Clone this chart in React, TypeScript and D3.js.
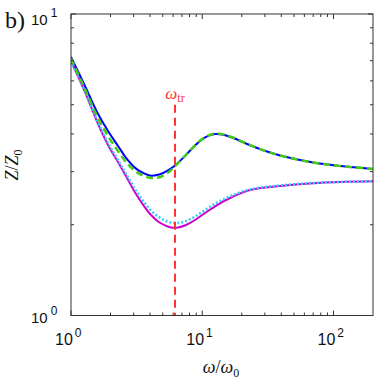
import React from "react";
import * as d3 from "d3";

// ---- data ----
const omegaBlue = [1, 1.278, 1.578, 1.914, 2.282, 2.672, 3.13, 3.6, 4.072, 4.768, 5.487, 6.205, 7.141, 8.363, 9.621, 11.07, 12.52, 14.16, 16.87, 21.96, 29.58, 39.17, 69.91, 112.3, 200];
const zBlue = [7.2, 5.77, 4.73, 4.09, 3.65, 3.3, 3.07, 2.96, 2.91, 2.94, 3.03, 3.145, 3.33, 3.58, 3.79, 3.94, 4.0, 3.985, 3.894, 3.706, 3.526, 3.394, 3.217, 3.133, 3.062];
const zGreen = [7.12, 5.64, 4.59, 3.94, 3.51, 3.2, 3.0, 2.9, 2.858, 2.88, 2.98, 3.13, 3.33, 3.58, 3.8, 3.95, 4.015, 3.995, 3.9, 3.71, 3.526, 3.394, 3.217, 3.133, 3.062];

const omegaMag = [1, 1.278, 1.578, 1.914, 2.282, 2.672, 3.13, 3.6, 4.072, 4.604, 5.207, 5.783, 6.54, 7.522, 8.813, 10.5, 12.97, 16.87, 23.14, 39.17, 69.91, 112.3, 200];
const zMagenta = [6.98, 5.51, 4.4, 3.678, 3.229, 2.858, 2.529, 2.307, 2.154, 2.05, 1.989, 1.958, 1.958, 1.996, 2.074, 2.188, 2.325, 2.472, 2.608, 2.689, 2.747, 2.772, 2.787];
const zCyan = [6.98, 5.55, 4.45, 3.734, 3.279, 2.912, 2.597, 2.379, 2.23, 2.13, 2.066, 2.035, 2.027, 2.058, 2.13, 2.239, 2.37, 2.5, 2.618, 2.7, 2.751, 2.772, 2.787];

const omegaTr = 6.2;
const trLineTopZ = 5.0;

const xDomain = [1, 200];
const yDomain = [1, 10];
const xMajor = [1, 10, 100];
const xMinor = [2, 3, 4, 5, 6, 7, 8, 9, 20, 30, 40, 50, 60, 70, 80, 90];
const yMajor = [1, 10];
const yMinor = [2, 3, 4, 5, 6, 7, 8, 9];
const xTickLabels = [
  { v: 1, base: "10", exp: "0" },
  { v: 10, base: "10", exp: "1" },
  { v: 100, base: "10", exp: "2" },
];
const yTickLabels = [
  { v: 1, base: "10", exp: "0" },
  { v: 10, base: "10", exp: "1" },
];

const W = 374;
const H = 379;
const M = { left: 71, right: 373, top: 14, bottom: 315.5 };

export default function App() {
  const x = d3.scaleLog().domain(xDomain).range([M.left, M.right]);
  const y = d3.scaleLog().domain(yDomain).range([M.bottom, M.top]);

  const mk = (om: number[], zs: number[]) =>
    d3
      .line<number>()
      .x((_, i) => x(om[i]))
      .y((d) => y(d))
      .curve(d3.curveCatmullRom.alpha(0.5))(zs) || "";

  const axisColor = "#333";
  const tickFont = "'Liberation Sans', Arial, sans-serif";
  const serif = "'Liberation Serif', 'DejaVu Serif', serif";
  const majLen = 5;
  const minLen = 3;

  return (
    <div style={{ position: "absolute", left: 0, top: 0 }}>
      <svg width={W} height={H} style={{ display: "block", background: "#fff" }}>
        <defs>
          <clipPath id="plotclip">
            <rect x={M.left} y={M.top} width={M.right - M.left} height={M.bottom - M.top} />
          </clipPath>
        </defs>

        {/* curves */}
        <g clipPath="url(#plotclip)" fill="none">
          <path d={mk(omegaMag, zMagenta)} stroke="#cc00cc" strokeWidth={2} />
          <path d={mk(omegaMag, zCyan)} stroke="#33ccff" strokeWidth={2.5} strokeDasharray="2,2" />
          <path d={mk(omegaBlue, zBlue)} stroke="#0000ff" strokeWidth={2} />
          <path d={mk(omegaBlue, zGreen)} stroke="#44cc11" strokeWidth={2.5} strokeDasharray="7,4" />
          <line
            x1={x(omegaTr)}
            x2={x(omegaTr)}
            y1={y(trLineTopZ)}
            y2={M.bottom}
            stroke="#ff3333"
            strokeWidth={2}
            strokeDasharray="8,5"
          />
        </g>

        {/* ω_tr label */}
        <text
          x={x(omegaTr)}
          y={y(trLineTopZ) - 6}
          textAnchor="middle"
          fill="#ff3333"
          fontFamily={serif}
          fontSize={17}
        >
          <tspan fontStyle="italic">ω</tspan>
          <tspan fontSize={12} dy={3}>tr</tspan>
        </text>

        {/* box */}
        <rect
          x={M.left}
          y={M.top}
          width={M.right - M.left}
          height={M.bottom - M.top}
          fill="none"
          stroke={axisColor}
          strokeWidth={1}
        />

        {/* x ticks */}
        {[...xMajor.map((v) => ({ v, l: majLen })), ...xMinor.map((v) => ({ v, l: minLen }))].map((t, i) => (
          <g key={"xt" + i} stroke={axisColor} strokeWidth={1}>
            <line x1={x(t.v)} x2={x(t.v)} y1={M.bottom} y2={M.bottom - t.l} />
            <line x1={x(t.v)} x2={x(t.v)} y1={M.top} y2={M.top + t.l} />
          </g>
        ))}
        {/* y ticks */}
        {[...yMajor.map((v) => ({ v, l: majLen })), ...yMinor.map((v) => ({ v, l: minLen }))].map((t, i) => (
          <g key={"yt" + i} stroke={axisColor} strokeWidth={1}>
            <line x1={M.left} x2={M.left + t.l} y1={y(t.v)} y2={y(t.v)} />
            <line x1={M.right} x2={M.right - t.l} y1={y(t.v)} y2={y(t.v)} />
          </g>
        ))}

        {/* x tick labels */}
        {xTickLabels.map((t) => (
          <text key={"xl" + t.v} x={x(t.v) - 16} y={345} fontFamily={tickFont} fontSize={16} fill="#111">
            {t.base}
            <tspan fontSize={12} dy={-8} dx={2}>{t.exp}</tspan>
          </text>
        ))}
        {/* y tick labels */}
        {yTickLabels.map((t) => (
          <text key={"yl" + t.v} x={31} y={y(t.v) + 7 + (t.v === 10 ? 4 : 0)} fontFamily={tickFont} fontSize={15} fill="#111">
            {t.base}
            <tspan fontSize={12} dy={-8} dx={3}>{t.exp}</tspan>
          </text>
        ))}

        {/* axis labels */}
        <text x={221} y={373} textAnchor="middle" fontFamily={serif} fontSize={18} fill="#111">
          <tspan fontStyle="italic">ω</tspan>/<tspan fontStyle="italic">ω</tspan>
          <tspan fontSize={12} dy={4}>0</tspan>
        </text>
        <text
          transform={`translate(18,165) rotate(-90)`}
          textAnchor="middle"
          fontFamily={serif}
          fontSize={18}
          fill="#111"
        >
          <tspan fontStyle="italic">Z</tspan>/<tspan fontStyle="italic">Z</tspan>
          <tspan fontSize={12} dy={4}>0</tspan>
        </text>

        {/* panel label */}
        <text x={5} y={28} fontFamily={serif} fontSize={24} fill="#111">
          b)
        </text>
      </svg>
    </div>
  );
}
